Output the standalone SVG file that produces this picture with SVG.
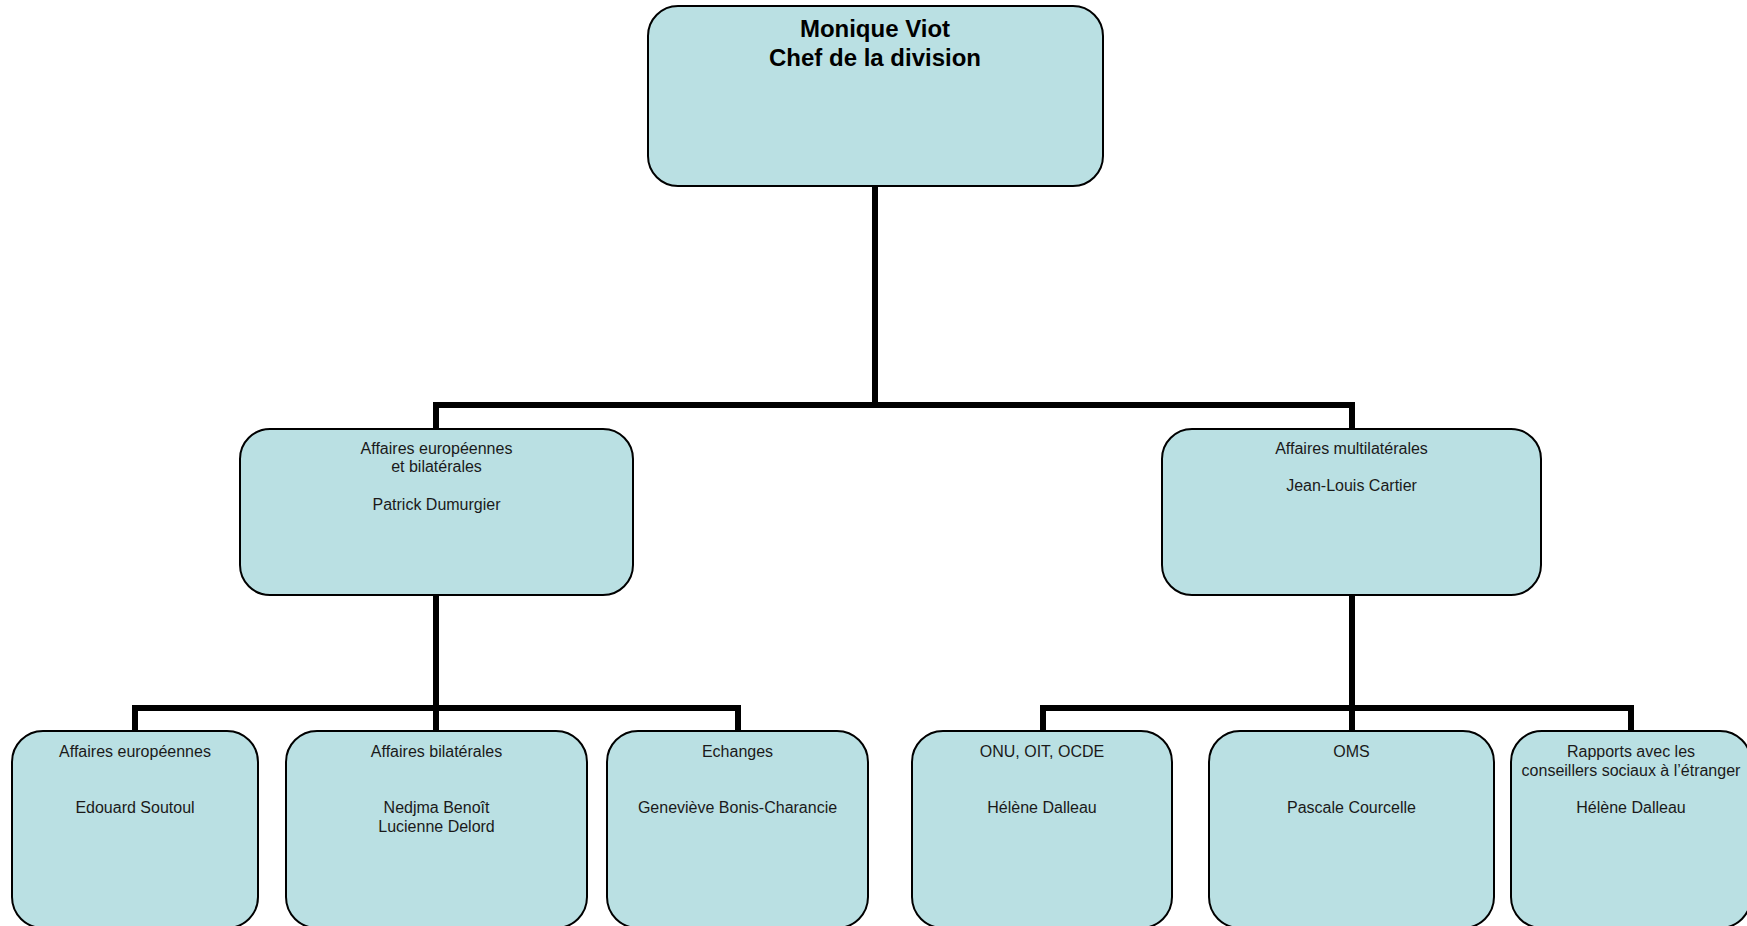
<svg xmlns="http://www.w3.org/2000/svg" width="1747" height="926" viewBox="0 0 1747 926">
<style>
.box{fill:#BAE0E3;stroke:#000;stroke-width:2}
.t{font-family:"Liberation Sans",Arial,sans-serif;font-size:16px;fill:#1a1a1a;text-anchor:middle}
.h{font-family:"Liberation Sans",Arial,sans-serif;font-size:24px;font-weight:bold;fill:#000;text-anchor:middle}
.c{fill:none;stroke:#000;stroke-width:6;stroke-linejoin:miter;stroke-linecap:butt}
</style>
<rect width="1747" height="926" fill="#fff"/>
<g id="connectors">
<path class="c" d="M875,186 V405"/>
<path class="c" d="M436,429 V405 H1352 V429"/>
<path class="c" d="M436,595 V708"/>
<path class="c" d="M135,731 V708 H738 V731"/>
<path class="c" d="M436,708 V731"/>
<path class="c" d="M1352,595 V708"/>
<path class="c" d="M1043,731 V708 H1631 V731"/>
<path class="c" d="M1352,708 V731"/>
</g>
<g id="n-chef">
<rect class="box" x="648" y="6" width="455" height="180" rx="30"/>
<text class="h" x="875" y="37">Monique Viot</text>
<text class="h" x="875" y="66">Chef de la division</text>
</g>
<g id="n-europ-bilat">
<rect class="box" x="240" y="429" width="393" height="166" rx="30"/>
<text class="t" x="436.5" y="453.5">Affaires européennes</text>
<text class="t" x="436.5" y="472">et bilatérales</text>
<text class="t" x="436.5" y="509.5">Patrick Dumurgier</text>
</g>
<g id="n-multilat">
<rect class="box" x="1162" y="429" width="379" height="166" rx="30"/>
<text class="t" x="1351.5" y="453.5">Affaires multilatérales</text>
<text class="t" x="1351.5" y="491">Jean-Louis Cartier</text>
</g>
<g id="n-europ">
<rect class="box" x="12" y="731" width="246" height="197" rx="31"/>
<text class="t" x="135" y="757">Affaires européennes</text>
<text class="t" x="135" y="813">Edouard Soutoul</text>
</g>
<g id="n-bilat">
<rect class="box" x="286" y="731" width="301" height="197" rx="31"/>
<text class="t" x="436.5" y="757">Affaires bilatérales</text>
<text class="t" x="436.5" y="813">Nedjma Benoît</text>
<text class="t" x="436.5" y="831.5">Lucienne Delord</text>
</g>
<g id="n-echanges">
<rect class="box" x="607" y="731" width="261" height="197" rx="31"/>
<text class="t" x="737.5" y="757">Echanges</text>
<text class="t" x="737.5" y="813">Geneviève Bonis-Charancie</text>
</g>
<g id="n-onu">
<rect class="box" x="912" y="731" width="260" height="197" rx="31"/>
<text class="t" x="1042" y="757">ONU, OIT, OCDE</text>
<text class="t" x="1042" y="813">Hélène Dalleau</text>
</g>
<g id="n-oms">
<rect class="box" x="1209" y="731" width="285" height="197" rx="31"/>
<text class="t" x="1351.5" y="757">OMS</text>
<text class="t" x="1351.5" y="813">Pascale Courcelle</text>
</g>
<g id="n-conseillers">
<rect class="box" x="1511" y="731" width="240" height="197" rx="31"/>
<text class="t" x="1631" y="757">Rapports avec les</text>
<text class="t" x="1631" y="775.5">conseillers sociaux à l’étranger</text>
<text class="t" x="1631" y="813">Hélène Dalleau</text>
</g>
</svg>
